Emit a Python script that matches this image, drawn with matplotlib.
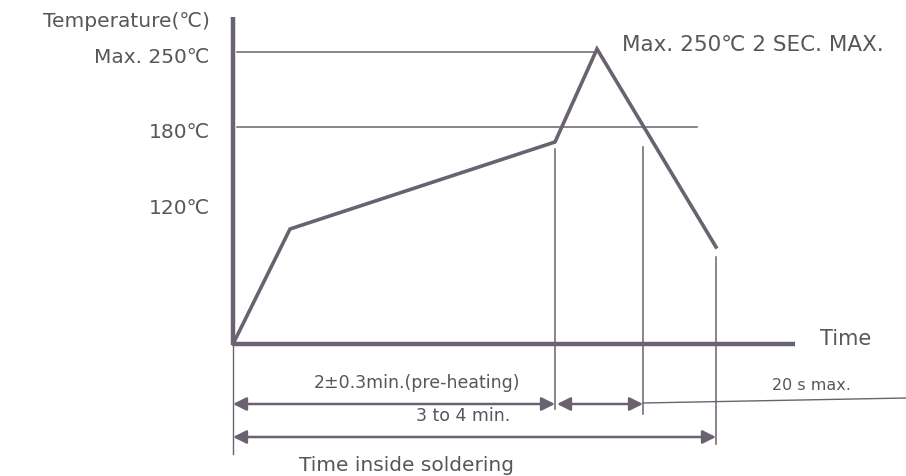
import matplotlib.pyplot as plt
import numpy as np

# schematic soldering profile (x: time units, y: schematic temperature level)
profile_t = [0, 57, 322, 364, 483]
profile_T = [0, 115, 202, 295, 97]

level_labels = ["Max. 250℃", "180℃", "120℃"]
level_y = [292, 217, 140]
level_line_end = [364, 464, None]

# vertical marker lines (x position, top, bottom)
markers_x = [322, 410, 483]
markers_top = [195, 197, 87]
markers_bot = [-65, -70, -100]

arrow_rows = [
    (0, 322, -60, "2±0.3min.(pre-heating)", 184),
    (324, 410, -60, None, None),
    (0, 483, -93, "3 to 4 min.", 230),
]

LINE = "#6a6270"
TXT = "#59555b"

fig = plt.figure(figsize=(9.06, 4.77), dpi=100)
ax = fig.add_axes([0, 0, 1, 1])
ax.set_xlim(-233, 673)
ax.set_ylim(-132, 345)
ax.axis('off')

# axes
ax.plot([0, 0], [0, 327], color=LINE, lw=3.2, solid_capstyle='butt')
ax.plot([0, 562], [0, 0], color=LINE, lw=3.2, solid_capstyle='butt')
ax.text(587, 6, "Time", color=TXT, fontsize=15, ha='left', va='center')
ax.text(-23, 324, "Temperature(℃)", color=TXT, fontsize=14.5, ha='right', va='center')

# level lines and labels
for lab, y, end in zip(level_labels, level_y, level_line_end):
    ax.text(-23, y - 4, lab, color=TXT, fontsize=14.5, ha='right', va='center')
    if end is not None:
        ax.plot([4, end], [y, y], color=LINE, lw=1.1)

ax.text(389, 300, "Max. 250℃ 2 SEC. MAX.", color=TXT, fontsize=15.5, ha='left', va='center')

# profile
ax.plot(profile_t, profile_T, color=LINE, lw=2.6, solid_joinstyle='miter')

# vertical markers
ax.plot([0, 0], [0, -110], color=LINE, lw=1)
for x, top, bot in zip(markers_x, markers_top, markers_bot):
    ax.plot([x, x], [top, bot], color=LINE, lw=1.1)

# dimension arrows
for x0, x1, y, lab, lx in arrow_rows:
    ax.annotate("", xy=(x1, y), xytext=(x0, y),
                arrowprops=dict(arrowstyle="<|-|>", color=LINE, lw=1.8,
                                mutation_scale=20, shrinkA=0, shrinkB=0))
    if lab:
        ax.text(lx, y + 22, lab, color=TXT, fontsize=12.5, ha='center', va='center')

ax.plot([410, 673], [-59, -54], color=LINE, lw=1)
ax.text(578, -40, "20 s max.", color=TXT, fontsize=11.5, ha='center', va='center')

ax.text(66, -121, "Time inside soldering", color=TXT, fontsize=14.5, ha='left', va='center')

fig.savefig("out.png", dpi=100)
